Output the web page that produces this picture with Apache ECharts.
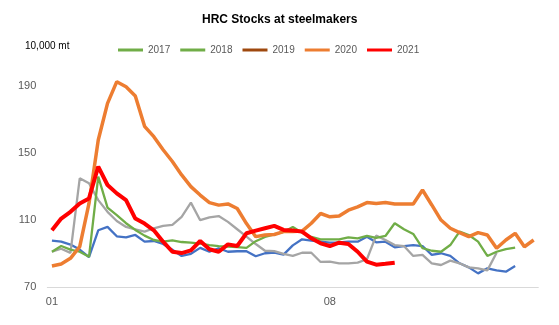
<!DOCTYPE html>
<html>
<head>
<meta charset="utf-8">
<script src="https://cdn.jsdelivr.net/npm/echarts@6/dist/echarts.min.js"></script>
<style>
html,body{margin:0;padding:0;background:#fff;}
#chart{width:559px;height:325px;}
</style>
</head>
<body>
<div id="chart"></div>
<script>
var categories = ["01","01","01","01","02","02","02","02","03","03","03","03","03","04","04","04","04","05","05","05","05","05","06","06","06","06","07","07","07","07","08","08","08","08","08","09","09","09","09","10","10","10","10","10","11","11","11","11","12","12","12","12","12"];
var yearNames = ["2017","2018","2019","2020","2021"];
var s2017 = [97.8,97.2,95.5,92.5,88,104,106,100.4,99.8,101.2,97.2,97.6,95.8,92.4,88.7,90,93.5,91.2,93.3,91.2,91.5,91.5,88.5,90.3,90.7,89.5,95,98.6,97.8,97.2,96.6,96.8,97.2,97.2,100.2,96.8,97.2,93.8,94.6,95.2,94.6,89.3,90.3,88.7,84.3,81.9,78.3,81.3,80.1,79.3,82.7];
var s2018 = [91.2,93,90.5,135,132,122,115,109.5,106,104.6,103.2,105.2,106.6,107.2,112,120.5,110,111.7,112.5,109,104.6,100.2,95.8,91.8,91.6,89.9,88.7,90.6,90.6,85.1,85.3,84.3,84.3,84.7,86.7,100.8,98.2,95.2,94.6,88.7,89.3,84.3,83.3,85.9,84.3,81.9,81.3,80.1,90.6];
var s2019 = [91.2,94.6,92.5,91.2,88.2,136,117.5,113,108.2,104.2,100.8,98.2,97.2,98,97,96.6,96,95.2,94.6,94.2,94,93.5,97.5,100,101.5,103,106,102.5,100,98.6,98.6,98.6,99.8,99.2,100.6,99.5,100.6,108.2,104.6,101.8,93.3,91.8,91.2,95.2,103.2,101.2,97.2,88.7,91.2,92.8,93.6];
var s2020 = [82.7,83.9,87.3,94.2,120,157.8,179.7,192.6,189.6,184.1,166,159.8,152,145,137,130,125,120.5,119,119.7,117,108,100.2,101.2,101.5,103.2,103.2,103.5,108.2,114,112,112.5,116,118,120.5,120,120.5,119.7,119.7,119.7,128,119.1,110.1,105.2,102.6,100.2,102.6,101.2,93.3,98.2,102.2,94.2,98.2];
var s2021 = [104,111,115,120,123,142,131,126,122,111,108,104,97.2,91.2,90.4,92,97.6,92.7,91.2,95.6,94.6,102.2,103.8,105.2,106.6,104.2,103.8,103.2,99.2,96.2,94.6,96.6,95.8,91.2,85.3,83.5,84,84.7];

var lineColors = ["#4472C4","#A5A5A5","#70AD47","#ED7D31","#FF0000"];
var lineWidths = [2.3,2.3,2.3,3.5,4];
var legendColors = ["#70AD47","#70AD47","#9E480E","#ED7D31","#FF0000"];
var seriesData = [s2017,s2018,s2019,s2020,s2021];

var chart = echarts.init(document.getElementById('chart'));
var font = "'Liberation Sans', Arial, sans-serif";
chart.setOption({
  animation: false,
  backgroundColor: '#fff',
  title: {
    text: 'HRC Stocks at steelmakers',
    left: 197, top: 9,
    textStyle: {fontFamily: font, fontSize: 12, fontWeight: 'bold', color: '#000'}
  },
  graphic: [{
    type: 'text', left: 25, top: 41,
    style: {text: '10,000 mt', fontFamily: font, fontSize: 10, fill: '#000'}
  }],
  legend: {
    left: 113, top: 40,
    icon: 'rect', itemWidth: 25, itemHeight: 3, itemGap: 10,
    textStyle: {fontFamily: font, fontSize: 10, color: '#595959'},
    data: yearNames.map(function(n, i){ return {name: n, itemStyle: {color: legendColors[i]}}; })
  },
  grid: {left: 47.3, right: 20.7, top: 52.5, bottom: 37.7, containLabel: false},
  xAxis: {
    type: 'category', data: categories, boundaryGap: true,
    axisLine: {lineStyle: {color: '#d9d9d9', width: 1}},
    axisTick: {interval: 0, length: 4, lineStyle: {color: '#d9d9d9'}},
    axisLabel: {interval: 29, margin: 9, fontFamily: font, fontSize: 11, color: '#595959'},
    splitLine: {show: false}
  },
  yAxis: {
    type: 'value', min: 70, max: 210, interval: 40,
    axisLine: {show: false}, axisTick: {show: false},
    splitLine: {show: false},
    axisLabel: {showMaxLabel: false, margin: 11, fontFamily: font, fontSize: 11, color: '#595959'}
  },
  series: seriesData.map(function(d, i){
    return {
      name: yearNames[i], type: 'line', data: d, symbol: 'none', smooth: false,
      lineStyle: {color: lineColors[i], width: lineWidths[i]},
      itemStyle: {color: legendColors[i]},
      z: 2 + i
    };
  })
});
</script>
</body>
</html>
